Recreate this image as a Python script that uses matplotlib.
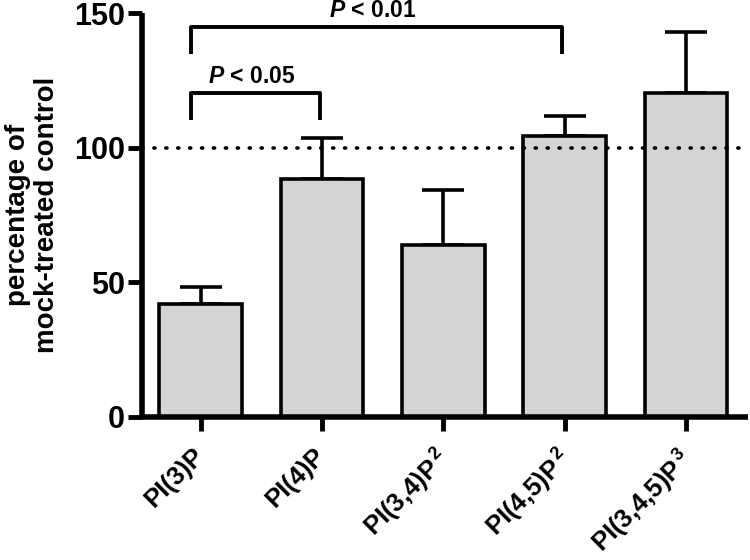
import numpy as np
import matplotlib.pyplot as plt
from matplotlib.transforms import ScaledTranslation

plt.rcParams['font.family'] = ['Liberation Sans', 'DejaVu Sans']
plt.rcParams['font.weight'] = 'bold'
plt.rcParams['mathtext.fontset'] = 'custom'
plt.rcParams['mathtext.rm'] = 'Liberation Sans'
plt.rcParams['mathtext.it'] = 'Liberation Sans:italic:bold'
plt.rcParams['mathtext.bf'] = 'Liberation Sans:bold'

# --- datos ---
categorias = ['PI(3)P', 'PI(4)P', r'PI(3,4)P$^{\,\mathrm{2}}$',
              r'PI(4,5)P$^{\,\mathrm{2}}$', r'PI(3,4,5)P$^{\,\mathrm{3}}$']
medias = [41.9, 88.3, 63.8, 104.4, 120.5]
errores = [6.2, 15.2, 20.5, 7.6, 22.5]
yticks = [0, 50, 100, 150]
referencia = 100

# comparaciones: (barra_a, barra_b, altura, texto)
comparaciones = [(0, 1, 120.5, r'$P$ < 0.05'),
                 (0, 3, 145.0, r'$P$ < 0.01')]

x = np.arange(len(categorias))

fig = plt.figure(figsize=(7.5, 5.6), dpi=100, facecolor='white')
ax = fig.add_axes([0.189, 0.256, 0.808, 0.72])

ax.bar(x, medias, width=0.68, color='#d4d4d4', edgecolor='black',
       linewidth=2.6, zorder=2)
ax.errorbar(x, medias, yerr=[np.zeros(len(x)), errores], fmt='none',
            ecolor='black', elinewidth=2.6, capsize=15, capthick=2.6, zorder=1)

ax.axhline(referencia, color='black', linewidth=2.6,
           linestyle=(0, (0.3, 3.0)), dash_capstyle='round', zorder=3)

for a, b, h, txt in comparaciones:
    xa, xb = a - 0.08, b - 0.02
    ax.plot([xa, xa, xb, xb], [h - 10, h, h, h - 10], color='black',
            linewidth=2.8, solid_capstyle='butt', clip_on=False, zorder=4)
    ax.text((xa + xb) / 2 - 0.03, h + 3.5, txt, ha='center', va='baseline',
            fontsize=16.5, fontweight='bold', clip_on=False)

ax.set_xlim(-0.486, 4.51)
ax.set_ylim(0, 150)
ax.set_yticks(yticks)
ax.set_xticks(x)
ax.set_xticklabels(categorias, rotation=45, ha='right', rotation_mode='anchor',
                   fontsize=18.5, fontweight='bold')
ax.tick_params(axis='y', labelsize=22, length=10, width=3.5, pad=2)
ax.tick_params(axis='x', length=10, width=3.5, pad=6)

# mover etiquetas del eje x
desplaza = ScaledTranslation(-0.09, -0.05, fig.dpi_scale_trans)
for lbl in ax.get_xticklabels():
    lbl.set_transform(lbl.get_transform() + desplaza)

for s in ['top', 'right']:
    ax.spines[s].set_visible(False)
for s in ['left', 'bottom']:
    ax.spines[s].set_linewidth(4)
    ax.spines[s].set_capstyle('butt')

ax.set_ylabel('percentage of\nmock-treated control', fontsize=20,
              fontweight='bold', linespacing=1.15, labelpad=10)

fig.savefig('out.png', dpi=100, facecolor='white')
